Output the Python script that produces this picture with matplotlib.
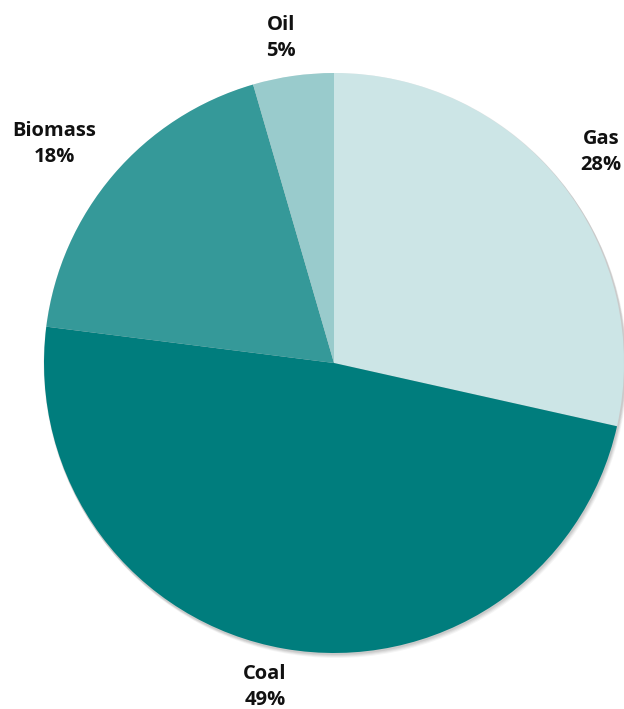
import matplotlib
matplotlib.use("Agg")
import matplotlib.pyplot as plt
from matplotlib.patches import Circle

# Data
categories = ["Gas", "Coal", "Biomass", "Oil"]
shares = [28.5, 48.5, 18.5, 4.5]
label_texts = ["28%", "49%", "18%", "5%"]
colors = ["#CCE5E6", "#007D7D", "#359999", "#99CBCC"]

W, H = 624, 709
fig = plt.figure(figsize=(W / 100, H / 100), dpi=100)
ax = fig.add_axes([0, 0, 1, 1])

cx, cy, R = 334, H - 363, 290

# soft shadow
for i, a in enumerate([0.04, 0.05, 0.06, 0.07]):
    off = 4 - i
    ax.add_patch(Circle((cx + off * 0.6, cy - off), R + 1, color="#000000", alpha=a, lw=0, zorder=0))

ax.pie(shares, colors=colors, startangle=90, counterclock=False,
       center=(cx, cy), radius=R, frame=True,
       wedgeprops=dict(linewidth=0, antialiased=True, zorder=2))
ax.set_xlim(0, W)
ax.set_ylim(0, H)
ax.set_aspect("equal")
ax.axis("off")

label_pos = {"Gas": (601, 152), "Coal": (265, 687), "Biomass": (54, 144), "Oil": (281, 38)}
for cat, txt in zip(categories, label_texts):
    x, y = label_pos[cat]
    ax.text(x, H - y, f"{cat}\n{txt}", ha="center", va="center",
            fontsize=14.5, fontweight="bold", family=["Open Sans", "DejaVu Sans"],
            color="#111111", linespacing=1.4, zorder=5)

fig.savefig("out.png", dpi=100)
